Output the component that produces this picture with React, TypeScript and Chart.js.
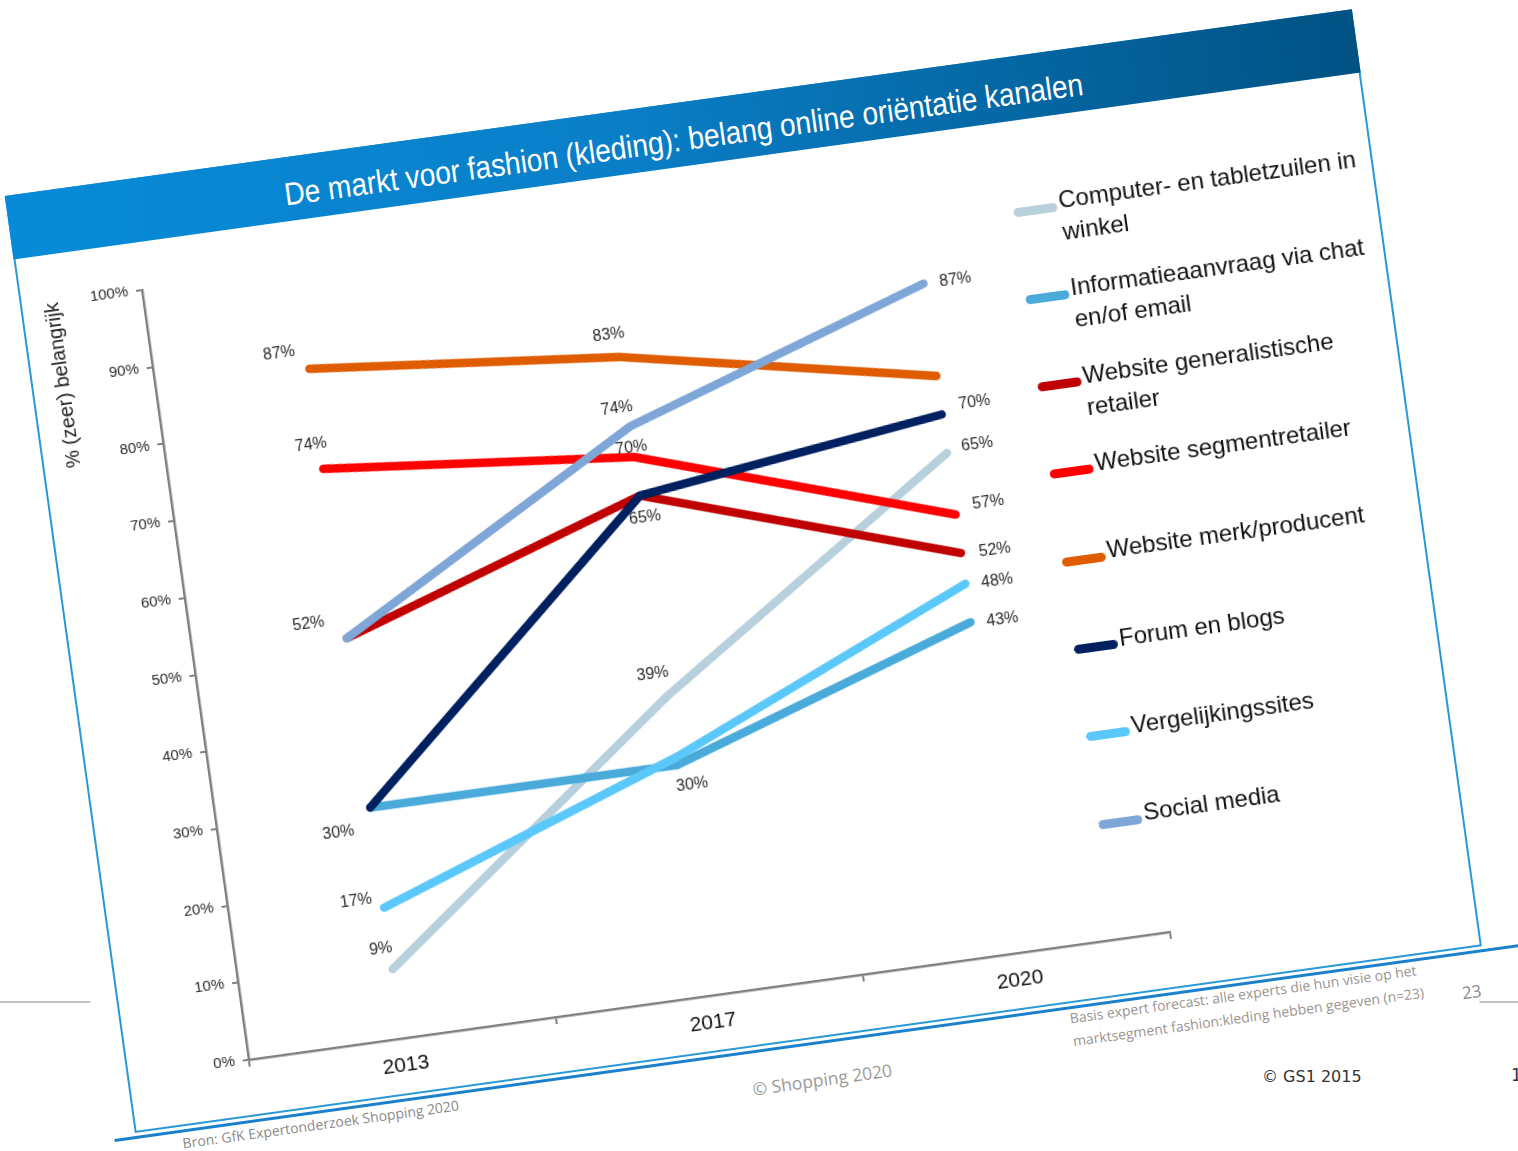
import React, { useEffect, useRef } from 'react';
import { Chart, registerables } from 'chart.js';

Chart.register(...registerables);

// ---------- data ----------
const YEARS = ['2013', '2017', '2020'];
const Y_MIN = 0;
const Y_MAX = 100;
const Y_STEP = 10;

const COMPUTER_TABLET = [9, 39, 65];
const INFO_CHAT_EMAIL = [30, 30, 43];
const WEBSITE_GENERALIST = [52, 65, 52];
const WEBSITE_SEGMENT = [74, 70, 57];
const WEBSITE_MERK = [87, 83, 75];
const FORUM_BLOGS = [30, 65, 70];
const VERGELIJKINGSSITES = [17, 31, 48];
const SOCIAL_MEDIA = [52, 74, 87];

const SERIES_LEGEND_LINES = [
  ['Computer- en tabletzuilen in', 'winkel'],
  ['Informatieaanvraag via chat', 'en/of email'],
  ['Website generalistische', 'retailer'],
  ['Website segmentretailer'],
  ['Website merk/producent'],
  ['Forum en blogs'],
  ['Vergelijkingssites'],
  ['Social media'],
];
const SERIES_VALUES = [
  COMPUTER_TABLET,
  INFO_CHAT_EMAIL,
  WEBSITE_GENERALIST,
  WEBSITE_SEGMENT,
  WEBSITE_MERK,
  FORUM_BLOGS,
  VERGELIJKINGSSITES,
  SOCIAL_MEDIA,
];
const SERIES_COLORS = [
  '#b7d0dc',
  '#4aabdb',
  '#c00000',
  '#ff0000',
  '#df5c00',
  '#002060',
  '#5ac8fa',
  '#7ea6d6',
];

// which points carry a value label, and where (pixel offset from the point)
const LABEL_OFFSETS: (number[] | null)[][] = [
  [[-9, -21], [-12, -23], [31, -4]],
  [[-35, 21], [12, 22], [32, 2]],
  [null, [2, 23], [34, 2]],
  [[-9, -25], [-2, -10], [34, -8]],
  [[-28, -19], [-9, -23], null],
  [null, null, [34, -8]],
  [[-27, -10], null, [32, 2]],
  [[-36, -19], [-11, -19], [32, 1]],
];

const TITLE = 'De markt voor fashion (kleding): belang online oriëntatie kanalen';
const Y_TITLE = '% (zeer) belangrijk';

const FAMILY = '"Liberation Sans", Arial, Helvetica, sans-serif';
const FOOT_FAMILY = '"Open Sans", "Noto Sans", sans-serif';

function measureText(text: string, font: string): number {
  const c = document.createElement('canvas').getContext('2d');
  if (!c) return 1;
  c.font = font;
  return c.measureText(text).width || 1;
}

const valueLabelPlugin = {
  id: 'valueLabels',
  afterDatasetsDraw(chart: any) {
    const ctx = chart.ctx;
    ctx.save();
    ctx.font = `16px ${FAMILY}`;
    ctx.fillStyle = '#2a2a2a';
    ctx.textAlign = 'center';
    ctx.textBaseline = 'middle';
    chart.data.datasets.forEach((ds: any, i: number) => {
      const meta = chart.getDatasetMeta(i);
      meta.data.forEach((pt: any, j: number) => {
        const off = LABEL_OFFSETS[i][j];
        if (!off) return;
        ctx.fillText(`${ds.data[j]}%`, pt.x + off[0], pt.y + off[1]);
      });
    });
    ctx.restore();
  },
};

export default function App() {
  const canvasRef = useRef<HTMLCanvasElement>(null);

  useEffect(() => {
    if (!canvasRef.current) return;
    const n = SERIES_VALUES.length;
    const chart = new Chart(canvasRef.current, {
      type: 'line',
      data: {
        labels: YEARS,
        datasets: SERIES_VALUES.map((vals, i) => ({
          label: SERIES_LEGEND_LINES[i].join(' '),
          data: vals,
          borderColor: SERIES_COLORS[i],
          backgroundColor: SERIES_COLORS[i],
          borderWidth: 8.5,
          pointRadius: 0,
          pointHoverRadius: 0,
          tension: 0,
          fill: false,
          borderCapStyle: 'round',
          borderJoinStyle: 'round',
          order: n - 1 - i,
        })),
      },
      options: {
        animation: false,
        responsive: false,
        maintainAspectRatio: false,
        layout: { padding: { top: 38, right: 13, left: 0, bottom: 0 } },
        plugins: {
          legend: { display: false },
          tooltip: { enabled: false },
          title: { display: false },
        },
        scales: {
          x: {
            type: 'category',
            offset: true,
            grid: {
              offset: true,
              drawOnChartArea: false,
              drawTicks: true,
              tickLength: 7,
              color: '#808080',
              lineWidth: 2,
            },
            border: { color: '#808080', width: 2.5 },
            ticks: {
              color: '#111111',
              font: { size: 21, family: FAMILY },
              padding: 8,
            },
            afterFit: (s: any) => {
              s.height = 45;
            },
          },
          y: {
            min: Y_MIN,
            max: Y_MAX,
            ticks: {
              stepSize: Y_STEP,
              callback: (v: any) => `${v}%`,
              color: '#2a2a2a',
              font: { size: 15, family: FAMILY },
              padding: 8,
            },
            grid: {
              drawOnChartArea: false,
              drawTicks: true,
              tickLength: 6,
              color: '#808080',
              lineWidth: 2,
            },
            border: { color: '#808080', width: 2.5 },
            title: {
              display: true,
              text: Y_TITLE,
              align: 'end',
              color: '#222222',
              font: { size: 20, family: FAMILY },
              padding: { top: 14, bottom: 0 },
            },
            afterFit: (s: any) => {
              s.width = 117;
            },
          },
        },
      } as any,
      plugins: [valueLabelPlugin],
    });
    return () => chart.destroy();
  }, []);

  const titleFont = `32px ${FAMILY}`;
  const titleScale = 806 / measureText(TITLE, titleFont);

  return (
    <div
      style={{
        position: 'fixed',
        left: 0,
        top: 0,
        width: 1518,
        height: 1151,
        overflow: 'hidden',
        background: '#ffffff',
      }}
    >
      {/* underlying slide line */}
      <div
        style={{
          position: 'absolute',
          left: 0,
          top: 1001,
          width: 1518,
          height: 2,
          background: '#c4c4c4',
        }}
      />

      {/* rotated slide */}
      <div
        style={{
          position: 'absolute',
          left: 0,
          top: 0,
          width: 1518,
          height: 1151,
          transform: 'rotate(-7.9deg)',
          transformOrigin: '759px 575px',
        }}
      >
        <div
          style={{
            position: 'absolute',
            left: 38,
            top: -100,
            width: 1376,
            height: 1320,
            background: '#ffffff',
          }}
        />
        {/* frame */}
        <div
          style={{
            position: 'absolute',
            left: 64,
            top: 96,
            width: 1356,
            height: 942,
            border: '2px solid #2a98d8',
          }}
        />
        {/* title bar */}
        <div
          style={{
            position: 'absolute',
            left: 64,
            top: 96,
            width: 1360,
            height: 64,
            background: 'linear-gradient(90deg, #078bd8 0%, #0a7fc8 45%, #005283 100%)',
            display: 'flex',
            alignItems: 'center',
            justifyContent: 'center',
          }}
        >
          <span
            style={{
              display: 'inline-block',
              color: '#ffffff',
              font: titleFont,
              whiteSpace: 'nowrap',
              transform: `translateY(5px) scaleX(${titleScale})`,
            }}
          >
            {TITLE}
          </span>
        </div>
        {/* bottom thick line */}
        <div
          style={{
            position: 'absolute',
            left: 43,
            top: 1045,
            width: 1520,
            height: 3,
            background: '#1a80cc',
          }}
        />

        {/* chart */}
        <canvas
          ref={canvasRef}
          width={1060}
          height={860}
          style={{ position: 'absolute', left: 70, top: 170, width: 1060, height: 860 }}
        />

        {/* legend */}
        {SERIES_LEGEND_LINES.map((lines, i) => {
          const cy = 251 + 88.3 * i;
          return (
            <div
              key={i}
              style={{
                position: 'absolute',
                left: 1061,
                top: cy - 22,
                width: 360,
                font: `24px ${FAMILY}`,
                lineHeight: '32px',
                color: '#111111',
              }}
            >
              <div
                style={{
                  position: 'absolute',
                  left: 0,
                  top: 17.5,
                  width: 44,
                  height: 9,
                  borderRadius: 4.5,
                  background: SERIES_COLORS[i],
                }}
              />
              <div style={{ marginLeft: 46, whiteSpace: 'nowrap' }}>
                {lines.map((l, k) => (
                  <div key={k}>{l}</div>
                ))}
              </div>
            </div>
          );
        })}

        {/* footer texts */}
        <div
          style={{
            position: 'absolute',
            left: 110,
            top: 1049,
            font: `14px ${FOOT_FAMILY}`,
            color: '#8a8a8a',
            whiteSpace: 'nowrap',
          }}
        >
          Bron: GfK Expertonderzoek Shopping 2020
        </div>
        <div
          style={{
            position: 'absolute',
            left: 682,
            top: 1071,
            font: `17.5px ${FOOT_FAMILY}`,
            color: '#9a9a9a',
            whiteSpace: 'nowrap',
          }}
        >
          © Shopping 2020
        </div>
        <div
          style={{
            position: 'absolute',
            left: 1006,
            top: 1045,
            font: `14px ${FOOT_FAMILY}`,
            lineHeight: '23px',
            color: '#9a948f',
            whiteSpace: 'nowrap',
          }}
        >
          <div>Basis expert forecast: alle experts die hun visie op het</div>
          <div>marktsegment fashion:kleding hebben gegeven (n=23)</div>
        </div>
        <div
          style={{
            position: 'absolute',
            left: 1398,
            top: 1074,
            font: `17px ${FOOT_FAMILY}`,
            color: '#888888',
            whiteSpace: 'nowrap',
          }}
        >
          23
        </div>
      </div>

      {/* underlying slide footer */}
      <div
        style={{
          position: 'absolute',
          left: 1262,
          top: 1067,
          font: '16px "DejaVu Sans", sans-serif',
          color: '#333333',
          whiteSpace: 'nowrap',
        }}
      >
        © GS1 2015
      </div>
      <div
        style={{
          position: 'absolute',
          left: 1511,
          top: 1065,
          font: '17px "DejaVu Sans", sans-serif',
          color: '#333333',
        }}
      >
        1
      </div>
    </div>
  );
}
